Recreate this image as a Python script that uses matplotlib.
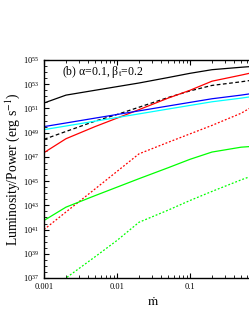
import numpy as np
import matplotlib.pyplot as plt
from matplotlib.ticker import FixedLocator, LogFormatterMathtext, NullFormatter

plt.rcParams['font.family'] = ['Liberation Serif', 'DejaVu Serif']
plt.rcParams['mathtext.fontset'] = 'stix'

# accretion rate grid (mdot)
mdot = np.array([0.001, 0.002, 0.005, 0.01, 0.02, 0.05, 0.1, 0.2, 0.5, 0.65])

# log10 of luminosity / power
log_black = np.array([51.45, 52.1, 52.5, 52.8, 53.1, 53.55, 53.9, 54.2, 54.4, 54.45])
log_black_dash = np.array([48.45, 49.1, 49.95, 50.5, 51.1, 51.9, 52.45, 52.9, 53.2, 53.3])
log_red = np.array([47.35, 48.5, 49.5, 50.2, 50.9, 51.85, 52.5, 53.25, 53.75, 53.9])
log_red_dot = np.array([41.0, 42.45, 44.35, 45.8, 47.25, 48.2, 48.9, 49.6, 50.6, 51.0])
log_green = np.array([41.75, 42.85, 43.8, 44.5, 45.2, 46.1, 46.8, 47.4, 47.8, 47.85])
log_green_dot = np.array([36.0, 37.0, 38.75, 40.1, 41.6, 42.6, 43.4, 44.15, 45.1, 45.35])
log_blue = np.array([49.5, 49.8, 50.2, 50.5, 50.8, 51.2, 51.5, 51.8, 52.1, 52.2])
log_cyan = np.array([49.25, 49.55, 49.95, 50.25, 50.55, 50.95, 51.25, 51.55, 51.85, 51.95])

fig = plt.figure(figsize=(2.49, 3.23), dpi=100)
ax = fig.add_axes([44/249, 45/323, 219/249, 218/323])

lw = 0.9
ax.plot(mdot, 10**log_black, color='black', lw=lw)
ax.plot(mdot, 10**log_black_dash, color='black', lw=lw, ls=(0, (3, 2)))
ax.plot(mdot, 10**log_red, color='red', lw=lw)
ax.plot(mdot, 10**log_red_dot, color='red', lw=lw, ls=(0, (1.5, 1.5)))
ax.plot(mdot, 10**log_green, color='#00ff00', lw=lw)
ax.plot(mdot, 10**log_green_dot, color='#00ff00', lw=lw, ls=(0, (1.5, 1.5)))
ax.plot(mdot, 10**log_cyan, color='cyan', lw=lw)
ax.plot(mdot, 10**log_blue, color='blue', lw=lw)

ax.set_xscale('log')
ax.set_yscale('log')
ax.set_xlim(0.001, 1)
ax.set_ylim(1e37, 1e55)

ax.yaxis.set_major_locator(FixedLocator([10.0**k for k in range(37, 56, 2)]))
ax.yaxis.set_major_formatter(LogFormatterMathtext())
ax.yaxis.set_minor_locator(FixedLocator([10.0**(k/2) for k in range(74, 111) if k % 4 != 2]))
ax.yaxis.set_minor_formatter(NullFormatter())
ax.set_xticks([0.001, 0.01, 0.1, 1])
ax.set_xticklabels(['0.001', '0.01', '0.1', ''])

ax.tick_params(which='both', direction='in', top=True, right=True, labelsize=6)
ax.tick_params(which='major', length=3.5, width=0.8)
ax.tick_params(which='minor', length=2, width=0.6)
for s in ax.spines.values():
    s.set_linewidth(1.0)

ax.set_xlabel(r'$\dot{\rm m}$', fontsize=9.5)
ax.set_ylabel(r'Luminosity/Power (erg s$^{-1}$)', fontsize=9.8, labelpad=1)
ax.text(0.08, 0.945, r'(b) α=0.1, β$_{\rm t}$=0.2', transform=ax.transAxes,
        fontsize=8.5, va='center', ha='left')

fig.savefig('out.png', dpi=100)
